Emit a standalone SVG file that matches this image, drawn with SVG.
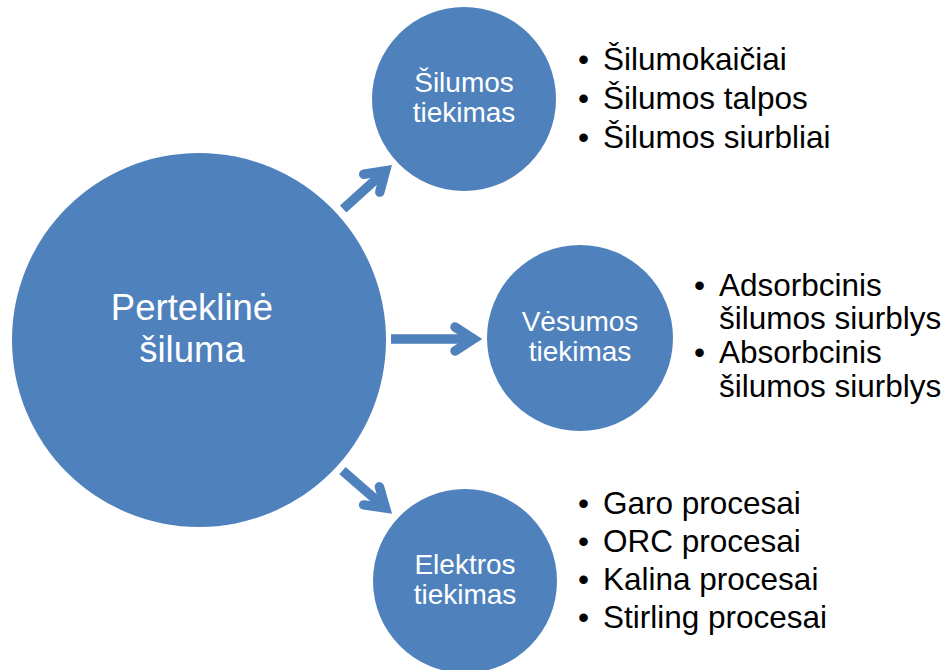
<svg xmlns="http://www.w3.org/2000/svg" width="947" height="670" viewBox="0 0 947 670">
  <defs>
    <style>
      .node { fill: #4F81BD; }
      .ntext { fill: #FFFFFF; font-family: "Liberation Sans", Arial, sans-serif; text-anchor: middle; }
      .list { fill: #000000; font-family: "Liberation Sans", Arial, sans-serif; font-size: 31.5px; }
      .shaft { stroke: #4F81BD; stroke-width: 9.5; fill: none; stroke-linecap: butt; }
      .head { stroke: #4F81BD; stroke-width: 9.5; fill: none; stroke-linecap: round; stroke-linejoin: miter; stroke-miterlimit: 10; }
    </style>
    <!-- open chevron arrow pointing along +x, tip vertex at origin -->
    <g id="arrowShape">
      <line class="shaft" x1="-57" y1="0" x2="0" y2="0"/>
      <polyline class="head" points="-18.5,-12 0,0 -18.5,12"/>
    </g>
  </defs>

  <rect width="947" height="670" fill="#FFFFFF"/>

  <!-- connectors -->
  <g id="connectors">
    <use href="#arrowShape" transform="translate(385.5,170.8) rotate(-42)"/>
    <g transform="translate(473.5,339)">
      <line class="shaft" x1="-82.5" y1="0" x2="0" y2="0"/>
      <polyline class="head" points="-18.5,-12 0,0 -18.5,12"/>
    </g>
    <use href="#arrowShape" transform="translate(385.5,508) rotate(41)"/>
  </g>

  <!-- central node -->
  <g id="node-perteklinė-šiluma">
    <circle class="node" cx="199" cy="340" r="187"/>
    <text class="ntext" font-size="36.5" x="192" y="320">Perteklinė</text>
    <text class="ntext" font-size="36.5" x="192" y="362">šiluma</text>
  </g>

  <!-- heat supply -->
  <g id="node-šilumos-tiekimas">
    <circle class="node" cx="464" cy="99" r="92"/>
    <text class="ntext" font-size="28" x="464" y="92">Šilumos</text>
    <text class="ntext" font-size="28" x="464" y="122">tiekimas</text>
  </g>
  <g id="list-šilumos">
    <text class="list" x="578" y="70">•</text>
    <text class="list" x="603" y="70">Šilumokaičiai</text>
    <text class="list" x="578" y="109">•</text>
    <text class="list" x="603" y="109">Šilumos talpos</text>
    <text class="list" x="578" y="148">•</text>
    <text class="list" x="603" y="148">Šilumos siurbliai</text>
  </g>

  <!-- cooling supply -->
  <g id="node-vėsumos-tiekimas">
    <circle class="node" cx="580" cy="338" r="93"/>
    <text class="ntext" font-size="28" x="580" y="331">Vėsumos</text>
    <text class="ntext" font-size="28" x="580" y="361">tiekimas</text>
  </g>
  <g id="list-vėsumos">
    <text class="list" x="694" y="296">•</text>
    <text class="list" x="719" y="296">Adsorbcinis</text>
    <text class="list" x="719" y="329">šilumos siurblys</text>
    <text class="list" x="694" y="363">•</text>
    <text class="list" x="719" y="363">Absorbcinis</text>
    <text class="list" x="719" y="397">šilumos siurblys</text>
  </g>

  <!-- electricity supply -->
  <g id="node-elektros-tiekimas">
    <circle class="node" cx="465" cy="581" r="92"/>
    <text class="ntext" font-size="28" x="465" y="574">Elektros</text>
    <text class="ntext" font-size="28" x="465" y="604">tiekimas</text>
  </g>
  <g id="list-elektros">
    <text class="list" x="578" y="514">•</text>
    <text class="list" x="603" y="514">Garo procesai</text>
    <text class="list" x="578" y="552">•</text>
    <text class="list" x="603" y="552">ORC procesai</text>
    <text class="list" x="578" y="590">•</text>
    <text class="list" x="603" y="590">Kalina procesai</text>
    <text class="list" x="578" y="628">•</text>
    <text class="list" x="603" y="628">Stirling procesai</text>
  </g>
</svg>
